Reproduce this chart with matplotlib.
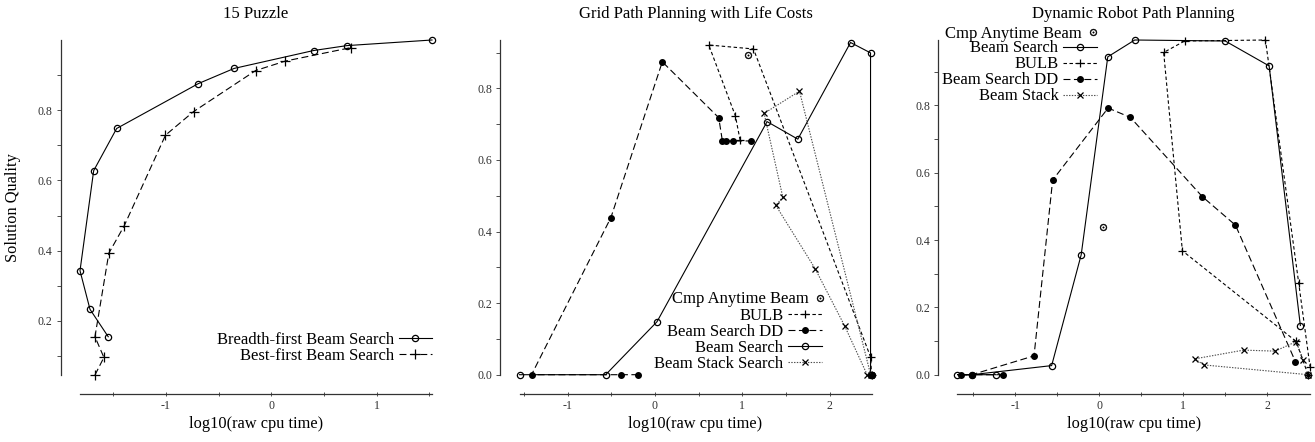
import numpy as np
import matplotlib
matplotlib.use('Agg')
from matplotlib import pyplot as plt
from matplotlib.ticker import FixedLocator

plt.rcParams['font.family'] = ['Liberation Serif', 'DejaVu Serif']
plt.rcParams['mathtext.fontset'] = 'dejavuserif'
plt.rcParams['lines.scale_dashes'] = False

nan = np.nan

# ---- 15 Puzzle ----
puz_bf_x = [-1.549, -1.722, -1.817, -1.687, -1.469, -0.692, -0.354, 0.401, 0.717, 1.526]
puz_bf_y = [0.155, 0.233, 0.343, 0.628, 0.748, 0.876, 0.919, 0.970, 0.984, 1.000]
puz_best_x = [-1.675, -1.590, -1.675, -1.543, -1.397, -1.005, -0.739, -0.149, 0.133, 0.752]
puz_best_y = [0.046, 0.096, 0.155, 0.393, 0.471, 0.729, 0.796, 0.913, 0.940, 0.978]

# ---- Grid Path Planning with Life Costs ----
grid_cmp_x = [1.070, 2.48]
grid_cmp_y = [0.892, 0.0]
grid_bulb_x = [0.975, 0.921, 0.616, 1.128, 2.47, 2.48]
grid_bulb_y = [0.655, 0.723, 0.921, 0.910, 0.049, 0.0]
grid_dd_x = [-0.191, -0.394, -1.414, -0.505, 0.084, 0.730, 0.772, 0.814, 0.891, 1.101, nan, 2.48]
grid_dd_y = [0.0, 0.0, 0.0, 0.439, 0.874, 0.718, 0.653, 0.653, 0.653, 0.653, nan, 0.0]
grid_beam_x = [-1.552, -0.565, 0.023, 1.284, 1.636, 2.240, 2.469, 2.469]
grid_beam_y = [0.0, 0.0, 0.148, 0.707, 0.658, 0.928, 0.899, 0.0]
grid_stack_x = [2.47, 1.655, 1.250, 1.464, 1.384, 1.835, 2.171, 2.43]
grid_stack_y = [0.0, 0.792, 0.730, 0.496, 0.473, 0.296, 0.137, 0.0]

# ---- Dynamic Robot Path Planning ----
robot_cmp_x = [0.044, 2.49]
robot_cmp_y = [0.439, 0.0]
robot_beam_x = [-1.232, -1.688, -1.517, -0.566, -0.214, 0.103, 0.424, 1.503, 2.026, 2.398]
robot_beam_y = [0.0, 0.0, 0.0, 0.027, 0.356, 0.944, 0.994, 0.991, 0.917, 0.146]
robot_bulb_x = [2.49, 2.347, 0.992, 0.769, 1.019, 1.982, 2.378, 2.513]
robot_bulb_y = [0.0, 0.099, 0.368, 0.957, 0.991, 0.994, 0.273, 0.024]
robot_dd_x = [-1.142, -1.648, -1.517, -0.776, -0.554, 0.107, 0.373, 1.229, 1.625, 2.339]
robot_dd_y = [0.0, 0.0, 0.0, 0.056, 0.578, 0.792, 0.764, 0.529, 0.444, 0.039]
robot_stack_x = [2.49, 1.249, 1.138, 1.721, 2.097, 2.347, 2.434]
robot_stack_y = [0.0, 0.029, 0.047, 0.073, 0.070, 0.098, 0.044]

# line styles
beam_sty = dict(ls='-', marker='o', mfc='none', ms=4.5, mew=0.9, color='k', lw=0.8)
dd_sty = dict(ls=(0, (5, 2.5)), marker='o', ms=4, color='k', lw=0.8)
bulb_sty = dict(ls=(0, (2.5, 1.8)), marker='+', ms=6, mew=0.9, color='k', lw=0.8)
stack_sty = dict(ls=(0, (1, 1)), marker='x', ms=4.5, mew=0.9, color='0.3', mec='k', lw=0.8)
cmp_sty = dict(ls='none', marker=r'$\odot$', ms=5, mew=0.3, color='k')
best_sty = dict(ls=(0, (5, 2.5)), marker='+', ms=6.5, mew=0.9, color='k', lw=0.8)

W, H = 1315, 442
fig = plt.figure(figsize=(W / 100, H / 100), dpi=100)

LEG = dict(loc='center right', frameon=False, markerfirst=False, fontsize=12,
           handlelength=2.0, handletextpad=0.3, borderpad=0, borderaxespad=0,
           labelspacing=0.0)
CMP_LEG = dict(LEG, handlelength=0.6, handletextpad=0.35)


def px_axes(x0, x1, y0, y1):
    return fig.add_axes([x0 / W, 1 - y1 / H, (x1 - x0) / W, (y1 - y0) / H])


def style(ax, title, xticks, yticks, xminor, yminor):
    for s in ['top', 'right']:
        ax.spines[s].set_visible(False)
    for s in ['left', 'bottom']:
        ax.spines[s].set_position(('outward', 13.7))
        ax.spines[s].set_color('0.2')
        ax.spines[s].set_linewidth(0.9)
    ax.xaxis.set_major_locator(FixedLocator(xticks))
    ax.yaxis.set_major_locator(FixedLocator(yticks))
    ax.xaxis.set_minor_locator(FixedLocator(xminor))
    ax.yaxis.set_minor_locator(FixedLocator(yminor))
    ax.set_xticklabels(['%g' % t for t in xticks])
    ax.set_yticklabels(['%.1f' % t for t in yticks])
    ax.tick_params(axis='x', which='both', direction='inout', length=3, width=0.7,
                   color='0.3', labelsize=8.6, labelcolor='0.2', pad=3)
    ax.tick_params(axis='y', which='both', direction='out', length=3, width=0.7,
                   color='0.3', labelsize=8.6, labelcolor='0.2', pad=3)
    ax.set_title(title, fontsize=12, pad=16)
    ax.set_xlabel('log10(raw cpu time)', fontsize=11.8, labelpad=3)


def limits(ax, xs, ys):
    xs = np.concatenate([np.asarray(x, float) for x in xs])
    ys = np.concatenate([np.asarray(y, float) for y in ys])
    ax.set_xlim(np.nanmin(xs), np.nanmax(xs))
    ax.set_ylim(np.nanmin(ys), np.nanmax(ys))


def split_legend(ax, cmp_anchor, rest_anchor):
    # Cmp Anytime Beam has no line, so gnuplot puts its point right after the text
    h, l = ax.get_legend_handles_labels()
    first = ax.legend(h[:1], l[:1], bbox_to_anchor=cmp_anchor, **CMP_LEG)
    ax.add_artist(first)
    ax.legend(h[1:], l[1:], bbox_to_anchor=rest_anchor, **LEG)


# panel 1
ax1 = px_axes(80, 432, 40, 375)
ax1.plot(puz_bf_x, puz_bf_y, label='Breadth-first Beam Search', clip_on=False, **beam_sty)
ax1.plot(puz_best_x, puz_best_y, label='Best-first Beam Search', clip_on=False, **best_sty)
limits(ax1, [puz_bf_x, puz_best_x], [puz_bf_y, puz_best_y])
style(ax1, '15 Puzzle', [-1, 0, 1], [0.2, 0.4, 0.6, 0.8],
      [-1.5, -0.5, 0.5, 1.5], [0.1, 0.3, 0.5, 0.7, 0.9])
ax1.set_ylabel('Solution Quality', fontsize=11.8)
ax1.yaxis.set_label_coords(-0.168, 0.5)
ax1.legend(bbox_to_anchor=(1.0, 0.08), **LEG)

# panel 2
ax2 = px_axes(519.5, 871.5, 40, 374.7)
ax2.plot(grid_cmp_x, grid_cmp_y, label='Cmp Anytime Beam', clip_on=False, **cmp_sty)
ax2.plot(grid_bulb_x, grid_bulb_y, label='BULB', clip_on=False, **bulb_sty)
ax2.plot(grid_dd_x, grid_dd_y, label='Beam Search DD', clip_on=False, **dd_sty)
ax2.plot(grid_beam_x, grid_beam_y, label='Beam Search', clip_on=False, **beam_sty)
ax2.plot(grid_stack_x, grid_stack_y, label='Beam Stack Search', clip_on=False, **stack_sty)
limits(ax2, [grid_bulb_x, grid_dd_x, grid_beam_x, grid_stack_x],
       [grid_bulb_y, grid_dd_y, grid_beam_y, grid_stack_y])
ax2.set_ylim(0, 0.935)
style(ax2, 'Grid Path Planning with Life Costs', [-1, 0, 1, 2], [0.0, 0.2, 0.4, 0.6, 0.8],
      [-1.5, -0.5, 0.5, 1.5], [0.1, 0.3, 0.5, 0.7, 0.9])
split_legend(ax2, (0.867, 0.225), (0.858, 0.1046))

# panel 3
ax3 = px_axes(957.5, 1310, 40, 374.7)
ax3.plot(robot_cmp_x, robot_cmp_y, label='Cmp Anytime Beam', clip_on=False, **cmp_sty)
ax3.plot(robot_beam_x, robot_beam_y, label='Beam Search', clip_on=False, **beam_sty)
ax3.plot(robot_bulb_x, robot_bulb_y, label='BULB', clip_on=False, **bulb_sty)
ax3.plot(robot_dd_x, robot_dd_y, label='Beam Search DD', clip_on=False, **dd_sty)
ax3.plot(robot_stack_x, robot_stack_y, label='Beam Stack', clip_on=False, **stack_sty)
limits(ax3, [robot_beam_x, robot_bulb_x, robot_dd_x, robot_stack_x],
       [robot_beam_y, robot_bulb_y, robot_dd_y, robot_stack_y])
style(ax3, 'Dynamic Robot Path Planning', [-1, 0, 1, 2], [0.0, 0.2, 0.4, 0.6, 0.8],
      [-1.5, -0.5, 0.5, 1.5], [0.1, 0.3, 0.5, 0.7, 0.9])
split_legend(ax3, (0.398, 1.018), (0.395, 0.903))

fig.savefig('out.png', dpi=100)
